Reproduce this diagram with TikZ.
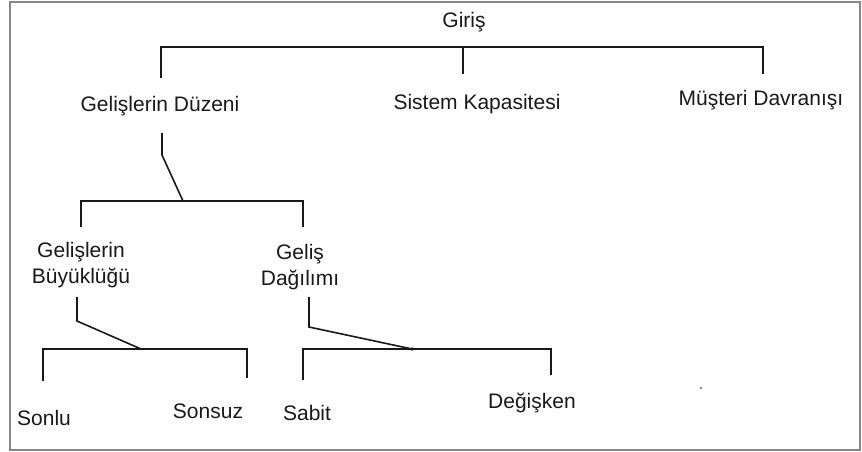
\documentclass[tikz,border=0pt]{standalone}
\usepackage{fontspec}
\setmainfont{Liberation Sans}
\definecolor{framegray}{RGB}{135,135,135}
\definecolor{ink}{RGB}{25,25,25}
\begin{document}
\begin{tikzpicture}[x=1pt,y=-1pt,
  lbl/.style={anchor=base,inner sep=0pt,text=ink,font=\fontsize{21}{26}\selectfont,align=center},
  conn/.style={draw=ink,line width=1.6pt,line cap=rect}]
\useasboundingbox (0,0) rectangle (862,452);
\draw[framegray,line width=1.6pt] (10,2) rectangle (860,450);
% nodes
\node[lbl] (giris) at (464,28) {Giriş};
\node[lbl] (duzen) at (160,111) {Gelişlerin Düzeni};
\node[lbl] (kapas) at (477,110) {Sistem Kapasitesi};
\node[lbl] (davr) at (761,106) {Müşteri Davranışı};
\node[lbl] (buyuk) at (81,283) {Gelişlerin\\Büyüklüğü};
\node[lbl] (dagil) at (300,285) {Geliş\\Dağılımı};
\node[lbl] (sonlu) at (44,425) {Sonlu};
\node[lbl] (sonsuz) at (208,418) {Sonsuz};
\node[lbl] (sabit) at (307,420) {Sabit};
\node[lbl] (degis) at (532,408) {Değişken};
% junction coordinates
\coordinate (t0) at (463,47);
\coordinate (tL) at (161,47);
\coordinate (tR) at (763,47);
\coordinate (tLd) at (161,77);
\coordinate (tMd) at (463,73);
\coordinate (tRd) at (763,73);
\coordinate (d1) at (162,134);
\coordinate (d2) at (162,155);
\coordinate (d3) at (183,201);
\coordinate (bL) at (81,201);
\coordinate (bR) at (303,201);
\coordinate (bLd) at (81,226);
\coordinate (bRd) at (303,226);
\coordinate (e1) at (77,298);
\coordinate (e2) at (77,321);
\coordinate (e3) at (141,349);
\coordinate (cL) at (43,349);
\coordinate (cR) at (247,349);
\coordinate (cLd) at (43,380);
\coordinate (cRd) at (247,377);
\coordinate (f1) at (309,298);
\coordinate (f2) at (309,327);
\coordinate (f3) at (412,349);
\coordinate (gL) at (303,349);
\coordinate (gR) at (551,349);
\coordinate (gLd) at (303,379);
\coordinate (gRd) at (551,374);
% connectors
\draw[conn] (tLd) -- (tL) -- (tR) -- (tRd);
\draw[conn] (t0) -- (tMd);
\draw[conn] (d1) -- (d2) -- (d3);
\draw[conn] (bLd) -- (bL) -- (bR) -- (bRd);
\draw[conn] (e1) -- (e2) -- (e3);
\draw[conn] (cLd) -- (cL) -- (cR) -- (cRd);
\draw[conn] (f1) -- (f2) -- (f3);
\draw[conn] (gLd) -- (gL) -- (gR) -- (gRd);
\fill[ink] (412,349) circle (1.8pt);
\fill[ink!70] (701,388) circle (1.2pt);
\end{tikzpicture}
\end{document}
